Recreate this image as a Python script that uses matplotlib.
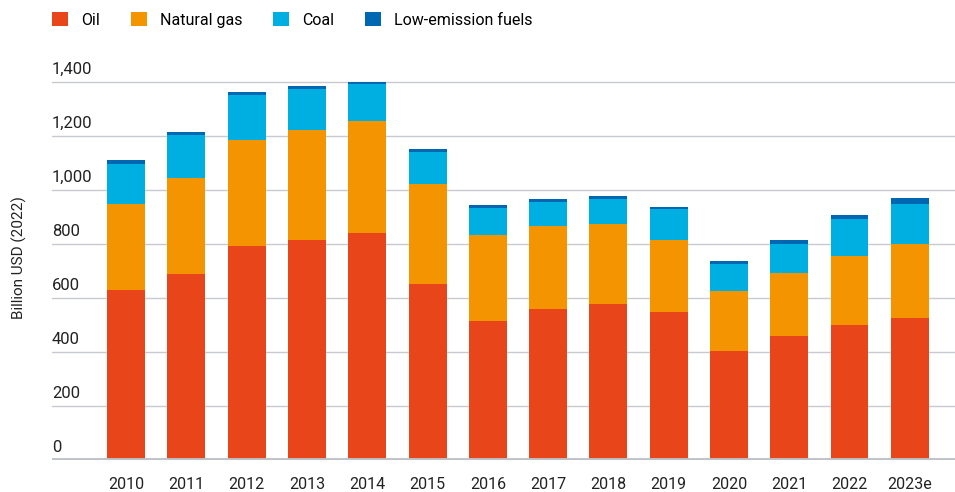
import matplotlib.pyplot as plt
import numpy as np

plt.rcParams['font.family'] = ['Roboto', 'DejaVu Sans']

# Investment in fossil fuel supply, billion USD (2022)
years = ["2010", "2011", "2012", "2013", "2014", "2015", "2016",
         "2017", "2018", "2019", "2020", "2021", "2022", "2023e"]
oil = [630, 689, 793, 815, 841, 652, 515, 559, 578, 548, 405, 459, 500, 526]
gas = [318, 355, 392, 407, 415, 370, 318, 308, 296, 267, 221, 234, 256, 274]
coal = [148, 160, 167, 152, 137, 119, 100, 89, 93, 115, 100, 107, 137, 148]
low_emission = [15, 11, 11, 11, 7, 11, 11, 11, 11, 7, 11, 15, 14, 22]
y_ticks = [0, 200, 400, 600, 800, 1000, 1200, 1400]

colors = {"Oil": "#E8451A", "Natural gas": "#F39400",
          "Coal": "#00AFE1", "Low-emission fuels": "#0068B2"}

fig = plt.figure(figsize=(9.55, 4.92), dpi=100)
ax = fig.add_axes([52 / 955, 32 / 492, 1 - 52 / 955, 1 - 32 / 492 - 68.5 / 492])

x = np.arange(len(years))
w = 0.63
bottom = np.zeros(len(years))
for name, vals in [("Oil", oil), ("Natural gas", gas),
                   ("Coal", coal), ("Low-emission fuels", low_emission)]:
    ax.bar(x, vals, w, bottom=bottom, color=colors[name], label=name, zorder=2)
    bottom += np.array(vals)

ax.set_xlim(-1.23, 13.75)
ax.set_ylim(0, 1450)

# gridlines, with the labels sitting above them
for t in y_ticks[1:]:
    ax.axhline(t, color="#C7CBD1", lw=1, zorder=1)
for t in y_ticks:
    ax.annotate(f"{t:,}", xy=(0, t), xycoords=ax.get_yaxis_transform(),
                xytext=(0, 3.5), textcoords="offset points",
                ha="left", va="bottom", fontsize=12, color="#222222")
ax.axhline(0, color="#BEC2C7", lw=3.5, zorder=3)

ax.set_yticks([])
ax.set_xticks(x)
ax.set_xticklabels(years, fontsize=11.5, color="#222222")
ax.tick_params(axis="x", length=0, pad=12)
for s in ax.spines.values():
    s.set_visible(False)

fig.text(19 / 955, 1 - 258 / 492, "Billion USD (2022)", rotation=90,
         ha="center", va="center", fontsize=11, color="#222222")

fig.legend(loc="center left", bbox_to_anchor=(52 / 955, 1 - 20 / 492),
           ncol=4, frameon=False, fontsize=11.5, handlelength=1.0,
           handleheight=1.0, handletextpad=0.85, columnspacing=1.9,
           borderpad=0, borderaxespad=0)

fig.savefig("out.png", dpi=100)
